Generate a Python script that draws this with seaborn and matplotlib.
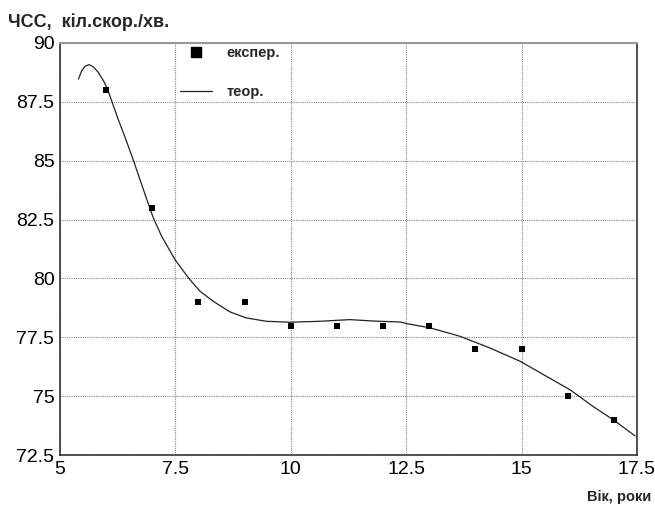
import matplotlib
matplotlib.use("Agg")
import matplotlib.pyplot as plt
import seaborn as sns
import pandas as pd
from matplotlib.lines import Line2D

# Measured heart rate by age
age = [6, 7, 8, 9, 10, 11, 12, 13, 14, 15, 16, 17]
hr = [88, 83, 79, 79, 78, 78, 78, 78, 77, 77, 75, 74]

# Theoretical curve (sampled)
curve_age = [5.40, 5.47, 5.54, 5.63, 5.72, 5.83, 5.94, 6.03, 6.12, 6.26,
             6.41, 6.59, 6.73, 6.88, 7.02, 7.20, 7.49, 7.78, 8.03, 8.32,
             8.68, 9.04, 9.47, 9.98, 10.63, 11.28, 11.79, 12.37, 12.51,
             13.02, 13.67, 14.32, 14.97, 15.54, 16.05, 16.55, 16.99, 17.46]
curve_hr = [88.47, 88.82, 89.01, 89.08, 88.99, 88.75, 88.40, 88.04, 87.54,
            86.76, 85.99, 85.02, 84.21, 83.36, 82.58, 81.80, 80.80, 80.03,
            79.46, 79.03, 78.58, 78.32, 78.18, 78.14, 78.18, 78.25, 78.19,
            78.15, 78.08, 77.90, 77.54, 77.04, 76.48, 75.84, 75.27, 74.56,
            73.99, 73.31]

x_ticks = [5, 7.5, 10, 12.5, 15, 17.5]
x_labels = ["5", "7.5", "10", "12.5", "15", "17.5"]
y_ticks = [72.5, 75, 77.5, 80, 82.5, 85, 87.5, 90]
y_labels = ["72.5", "75", "77.5", "80", "82.5", "85", "87.5", "90"]

sns.set_theme(style="white")
plt.rcParams["font.family"] = ["Liberation Sans", "DejaVu Sans"]

fig = plt.figure(figsize=(6.55, 5.05), dpi=100)
ax = fig.add_axes([0.0916, 0.099, 0.8809, 0.8159])

pts = pd.DataFrame({"age": age, "hr": hr})
cur = pd.DataFrame({"age": curve_age, "hr": curve_hr})

sns.lineplot(data=cur, x="age", y="hr", sort=False, color="#222222",
             linewidth=0.9, ax=ax, zorder=3)
sns.scatterplot(data=pts, x="age", y="hr", marker="s", s=14, color="black",
                edgecolor="black", linewidth=0, ax=ax, zorder=4)

ax.set_xlim(5, 17.5)
ax.set_ylim(72.5, 90)
ax.set_xticks(x_ticks)
ax.set_xticklabels(x_labels)
ax.set_yticks(y_ticks)
ax.set_yticklabels(y_labels)
ax.tick_params(axis="both", labelsize=14, length=0, pad=4, colors="black")
ax.set_xlabel("")
ax.set_ylabel("")

ax.grid(True, color="#888888", linestyle=(0, (1, 1)), linewidth=0.8)
for side in ["left", "bottom", "right"]:
    ax.spines[side].set_color("#333333")
    ax.spines[side].set_linewidth(1.2)
ax.spines["top"].set_color("#999999")
ax.spines["top"].set_linewidth(1.5)

handles = [
    Line2D([], [], marker="s", linestyle="none", color="black", markersize=7),
    Line2D([], [], color="#222222", linewidth=0.9),
]
leg = ax.legend(handles, ["експер.", "теор."], loc="upper left",
                bbox_to_anchor=(0.185, 1.025), frameon=False,
                prop={"weight": "bold", "size": 10.5}, handlelength=2.2,
                labelspacing=1.75, handletextpad=1.0)

fig.text(0.012, 0.957, "ЧСС,  кіл.скор./хв.", fontsize=13, fontweight="bold",
         ha="left", va="center")
fig.text(0.995, 0.016, "Вік, роки", fontsize=10.5, fontweight="bold",
         ha="right", va="center")

fig.savefig("out.png", dpi=100)
